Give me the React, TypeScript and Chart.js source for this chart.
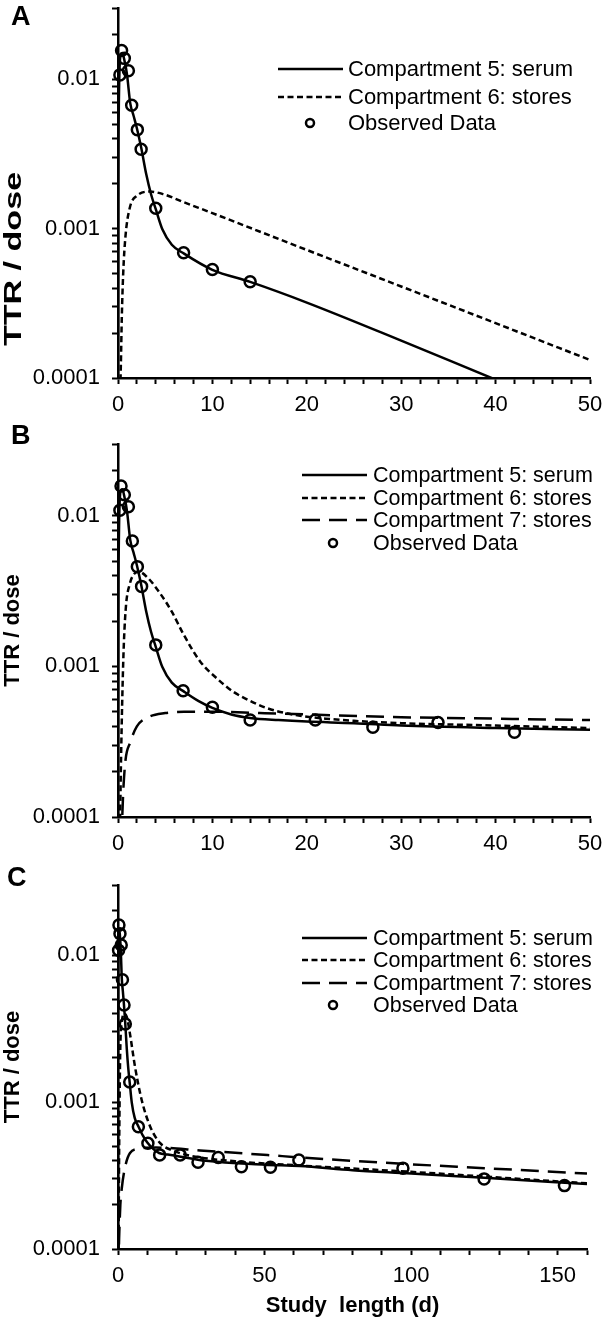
import React, { useEffect, useRef } from 'react';
import { Chart, registerables } from 'chart.js';

Chart.register(...registerables);

const FONT = "'Liberation Sans', Arial, Helvetica, sans-serif";

// ---------------- Panel A ----------------
const tA_serum = [0, 0.03, 0.08, 0.15, 0.3, 0.45, 0.7, 0.95, 1.3, 1.65, 2.0, 2.45, 3.0, 3.5, 4.0, 4.7, 5.7, 7, 10, 14, 20, 30, 40, 50];
const vA_serum = [0.00005, 0.002, 0.006, 0.011, 0.0148, 0.015, 0.0132, 0.0108, 0.0069, 0.0057, 0.0047, 0.0035, 0.0023, 0.0017, 0.00135, 0.00099, 0.00078, 0.00068, 0.00053, 0.00044, 0.00032, 0.000178, 0.0000975, 0.000054];
const tA_stores = [0, 0.2, 0.3, 0.4, 0.55, 0.8, 1.25, 2, 3.4, 4.8, 7, 10, 20, 30, 40, 50];
const vA_stores = [0.00003, 0.00007, 0.00012, 0.00025, 0.0005, 0.0009, 0.00138, 0.00166, 0.00177, 0.0017, 0.0015, 0.00127, 0.00072, 0.00041, 0.000233, 0.000132];
const tA_obs = [0.2, 0.38, 0.67, 1.1, 1.45, 2.05, 2.45, 4.0, 6.95, 10.0, 14.0];
const vA_obs = [0.0107, 0.0156, 0.0138, 0.0114, 0.0067, 0.0046, 0.0034, 0.00137, 0.00069, 0.000532, 0.000441];

// ---------------- Panel B ----------------
const tB_serum = [0, 0.03, 0.08, 0.15, 0.3, 0.45, 0.7, 0.95, 1.3, 1.65, 2.0, 2.45, 3.0, 3.5, 4.0, 4.7, 5.7, 7, 8.5, 10, 12, 14, 17, 20, 25, 30, 40, 50];
const vB_serum = [0.00005, 0.002, 0.006, 0.011, 0.0148, 0.015, 0.0132, 0.0108, 0.0069, 0.0057, 0.0047, 0.0035, 0.0023, 0.0017, 0.00135, 0.00099, 0.00078, 0.00068, 0.00059, 0.00053, 0.00048, 0.000455, 0.00044, 0.00043, 0.00042, 0.000405, 0.00039, 0.00038];
const tB_s6 = [0, 0.2, 0.32, 0.56, 0.81, 1.27, 1.7, 2.15, 3.2, 4.45, 5.7, 6.9, 8.7, 10.5, 12.2, 14, 15.7, 18.6, 22, 25, 30, 40, 50];
const vB_s6 = [0.00003, 0.00008, 0.00024, 0.0011, 0.00237, 0.00357, 0.0041, 0.00427, 0.00385, 0.00306, 0.00231, 0.00165, 0.00108, 0.00083, 0.00068, 0.00059, 0.00053, 0.000478, 0.00045, 0.000435, 0.00042, 0.000405, 0.00039];
const tB_s7 = [0, 0.3, 0.45, 0.56, 0.8, 1.27, 2, 3.2, 5, 7, 10, 15, 20, 30, 40, 50];
const vB_s7 = [0.00003, 0.00006, 0.0001, 0.00015, 0.00024, 0.00031, 0.0004, 0.00046, 0.00049, 0.0005, 0.0005, 0.00049, 0.00048, 0.00046, 0.00045, 0.00044];
const tB_obs = [0.2, 0.32, 0.67, 1.1, 1.52, 2.05, 2.5, 4.0, 6.9, 10.0, 14.0, 20.9, 27.0, 33.9, 42.0];
const vB_obs = [0.0109, 0.0158, 0.0138, 0.0115, 0.0068, 0.0046, 0.0034, 0.00139, 0.00069, 0.000535, 0.000441, 0.000441, 0.000395, 0.000424, 0.000366];

// ---------------- Panel C ----------------
const tC_serum = [0, 0.03, 0.08, 0.15, 0.3, 0.45, 0.7, 0.95, 1.3, 1.65, 2.0, 2.45, 3.0, 3.5, 4.0, 4.7, 5.7, 7, 8.5, 10, 12, 14, 17, 20, 30, 50, 62, 80, 100, 125, 160];
const vC_serum = [0.00005, 0.002, 0.006, 0.011, 0.0148, 0.015, 0.0132, 0.0108, 0.0069, 0.0057, 0.0047, 0.0035, 0.0023, 0.0017, 0.00135, 0.00099, 0.00078, 0.00068, 0.00059, 0.00053, 0.00048, 0.00045, 0.00044, 0.00043, 0.000398, 0.000375, 0.000367, 0.000344, 0.000327, 0.000305, 0.000277];
const tC_s6 = [0, 0.2, 0.3, 0.56, 0.8, 1.3, 2.2, 3.0, 4.1, 5.8, 8.1, 11, 14.4, 18.4, 25, 40, 60, 100, 160];
const vC_s6 = [0.00003, 0.00008, 0.00024, 0.0011, 0.0024, 0.0035, 0.004, 0.0038, 0.0029, 0.00174, 0.00103, 0.00068, 0.000525, 0.00047, 0.00043, 0.000395, 0.000372, 0.000335, 0.00028];
const tC_s7 = [0, 0.3, 0.5, 0.8, 1.3, 2.4, 4.1, 7, 13, 28, 51, 62, 97, 125, 160];
const vC_s7 = [0.00003, 0.0001, 0.00014, 0.0002, 0.00026, 0.00036, 0.00045, 0.00048, 0.00049, 0.000468, 0.000436, 0.00042, 0.00038, 0.000355, 0.000326];
const tC_obs = [0.2, 0.32, 0.67, 1.1, 1.52, 2.05, 2.5, 4.0, 6.95, 10.2, 14.2, 21.2, 27.3, 34.2, 42.1, 52.0, 61.7, 97.2, 124.9, 152.3];
const vC_obs = [0.0108, 0.016, 0.014, 0.0117, 0.0068, 0.00457, 0.0034, 0.00137, 0.00068, 0.000525, 0.000437, 0.000437, 0.00039, 0.00042, 0.000363, 0.00036, 0.000403, 0.000355, 0.0003, 0.00027];

// ---------------- Axes ----------------
const yMajor = [0.0001, 0.001, 0.01];
const yMajorLabels = ['0.0001', '0.001', '0.01'];
const yMin = 0.0001;
const yMax = 0.03;
const xLabelsAB = [0, 10, 20, 30, 40, 50];
const xLabelsC = [0, 50, 100, 150];

const legendLabels = ['Compartment 5: serum', 'Compartment 6: stores', 'Compartment 7: stores', 'Observed Data'];
const yTitle = 'TTR / dose';
const xTitle = 'Study  length (d)';

function yTickValues() {
  const out: number[] = [];
  for (const d of [0.0001, 0.001]) for (let k = 1; k <= 9; k++) out.push(+(k * d).toPrecision(6));
  out.push(0.01, 0.02, 0.03);
  return out;
}
function xTickValues(max: number, step: number) {
  const out: number[] = [];
  for (let v = 0; v <= max + 1e-9; v += step) out.push(v);
  return out;
}

const LW = 2.5;
const SOLID: number[] = [];
const SHORT = [6, 3.5];
const LONG = [18, 9];

const pts = (t: number[], v: number[]) => t.map((x, i) => ({ x, y: v[i] }));
const curve = (label: string, t: number[], v: number[], dash: number[]) => ({
  label,
  data: pts(t, v),
  borderColor: '#000',
  backgroundColor: '#000',
  borderWidth: LW,
  borderDash: dash,
  pointRadius: 0,
  fill: false,
  cubicInterpolationMode: 'monotone',
});
const observed = (t: number[], v: number[]) => ({
  label: legendLabels[3],
  data: pts(t, v),
  showLine: false,
  pointRadius: 5.5,
  pointStyle: 'circle',
  pointBorderWidth: 2.5,
  pointBorderColor: '#000',
  pointBackgroundColor: 'rgba(255,255,255,0)',
  borderColor: '#000',
  borderWidth: 2.5,
  clip: false,
});

const insetLegend = {
  id: 'insetLegend',
  afterDatasetsDraw(chart: any, _args: any, opts: any) {
    const ctx = chart.ctx;
    ctx.save();
    ctx.font = `${opts.fontSize}px ${FONT}`;
    ctx.fillStyle = '#000';
    ctx.strokeStyle = '#000';
    ctx.textBaseline = 'middle';
    ctx.textAlign = 'left';
    chart.data.datasets.forEach((ds: any, i: number) => {
      const y = opts.rows[i];
      ctx.beginPath();
      if (ds.showLine === false) {
        ctx.setLineDash([]);
        ctx.lineWidth = 2.5;
        ctx.arc(opts.markerX, y, opts.markerR, 0, Math.PI * 2);
      } else {
        ctx.setLineDash(ds.borderDash || []);
        ctx.lineWidth = ds.borderWidth;
        ctx.moveTo(opts.x1, y);
        ctx.lineTo(opts.x2, y);
      }
      ctx.stroke();
      ctx.fillText(ds.label, opts.textX, y + 1);
    });
    ctx.restore();
  },
};

const PANELS = [
  {
    id: 'A', top: 0, height: 418, padTop: 5, padRight: 12, xAxisHeight: 40,
    xMax: 50, xStep: 2, xLabels: xLabelsAB, xTitle: null as string | null,
    chartYTitle: false, htmlYTitle: { x: 13, y: 259, size: 24, stretch: 1.42 },
    letterPos: { left: 11, top: 3 },
    legend: { rows: [69, 97, 123], x1: 278, x2: 343, textX: 348, markerX: 310, markerR: 4, fontSize: 22 },
    datasets: [
      curve(legendLabels[0], tA_serum, vA_serum, SOLID),
      curve(legendLabels[1], tA_stores, vA_stores, SHORT),
      observed(tA_obs, vA_obs),
    ],
  },
  {
    id: 'B', top: 418, height: 440, padTop: 26, padRight: 12, xAxisHeight: 41,
    xMax: 50, xStep: 2, xLabels: xLabelsAB, xTitle: null as string | null,
    chartYTitle: true, htmlYTitle: null as any,
    letterPos: { left: 11, top: 422 },
    legend: { rows: [57, 80, 102, 125], x1: 302, x2: 367, textX: 373, markerX: 333, markerR: 4, fontSize: 21.5 },
    datasets: [
      curve(legendLabels[0], tB_serum, vB_serum, SOLID),
      curve(legendLabels[1], tB_s6, vB_s6, SHORT),
      curve(legendLabels[2], tB_s7, vB_s7, LONG),
      observed(tB_obs, vB_obs),
    ],
  },
  {
    id: 'C', top: 858, height: 459, padTop: 27, padRight: 15, xAxisHeight: 68,
    xMax: 160, xStep: 10, xLabels: xLabelsC, xTitle: xTitle as string | null,
    chartYTitle: true, htmlYTitle: null as any,
    letterPos: { left: 7, top: 864 },
    legend: { rows: [80, 102, 125, 147], x1: 302, x2: 367, textX: 373, markerX: 333, markerR: 4, fontSize: 21.5 },
    datasets: [
      curve(legendLabels[0], tC_serum, vC_serum, SOLID),
      curve(legendLabels[1], tC_s6, vC_s6, SHORT),
      curve(legendLabels[2], tC_s7, vC_s7, LONG),
      observed(tC_obs, vC_obs),
    ],
  },
];

function makeConfig(spec: any): any {
  const yTicks = yTickValues();
  const xTicks = xTickValues(spec.xMax, spec.xStep);
  return {
    type: 'line',
    data: { datasets: spec.datasets },
    options: {
      responsive: false,
      animation: false,
      events: [],
      layout: { padding: { top: spec.padTop, right: spec.padRight, left: 0, bottom: 0 } },
      plugins: {
        legend: { display: false },
        tooltip: { enabled: false },
        title: { display: false },
        insetLegend: spec.legend,
      },
      scales: {
        x: {
          type: 'linear',
          min: 0,
          max: spec.xMax,
          afterBuildTicks: (s: any) => { s.ticks = xTicks.map((value) => ({ value })); },
          afterFit: (s: any) => { s.height = spec.xAxisHeight; s.paddingLeft = 0; s.paddingRight = 0; },
          ticks: {
            autoSkip: false, maxRotation: 0, minRotation: 0, padding: 8, color: '#000',
            font: { family: FONT, size: 22 },
            callback: (v: number) => (spec.xLabels.includes(v) ? String(v) : ''),
          },
          grid: { display: true, drawOnChartArea: false, drawTicks: true, tickLength: 6, tickWidth: 2, tickColor: '#000' },
          border: { display: true, color: '#000', width: 2.5 },
          title: spec.xTitle
            ? { display: true, text: spec.xTitle, color: '#000', font: { family: FONT, size: 22, weight: 'bold', lineHeight: 1 }, padding: { top: 0, bottom: 0 } }
            : { display: false },
        },
        y: {
          type: 'logarithmic',
          min: yMin,
          max: yMax,
          afterBuildTicks: (s: any) => { s.ticks = yTicks.map((value) => ({ value })); },
          afterFit: (s: any) => { s.width = 118; s.paddingTop = 0; s.paddingBottom = 0; },
          ticks: {
            autoSkip: false, padding: 12, color: '#000',
            font: { family: FONT, size: 22 },
            callback: (v: number) => {
              const k = yMajor.findIndex((m) => Math.abs(m - v) / m < 1e-6);
              return k >= 0 ? yMajorLabels[k] : '';
            },
          },
          grid: { display: true, drawOnChartArea: false, drawTicks: true, tickLength: 6, tickWidth: 2, tickColor: '#000' },
          border: { display: true, color: '#000', width: 2.5 },
          title: {
            display: spec.chartYTitle, text: yTitle, color: '#000',
            font: { family: FONT, size: 22, weight: 'bold', lineHeight: 1.2 }, padding: { top: 0, bottom: 0 },
          },
        },
      },
    },
    plugins: [insetLegend],
  };
}

function Panel({ spec }: { spec: any }) {
  const ref = useRef<HTMLCanvasElement>(null);
  useEffect(() => {
    if (!ref.current) return;
    const chart = new Chart(ref.current, makeConfig(spec));
    return () => chart.destroy();
  }, [spec]);
  return (
    <canvas
      ref={ref}
      width={602}
      height={spec.height}
      style={{ position: 'absolute', left: 0, top: spec.top, width: 602, height: spec.height, display: 'block' }}
    />
  );
}

export default function App() {
  return (
    <div style={{ position: 'absolute', left: 0, top: 0, width: 602, height: 1317, background: '#fff', overflow: 'hidden' }}>
      {PANELS.map((p) => (
        <Panel key={p.id} spec={p} />
      ))}
      {PANELS.filter((p) => p.htmlYTitle).map((p) => (
        <div
          key={'ytitle-' + p.id}
          style={{
            position: 'absolute', left: p.htmlYTitle.x, top: p.htmlYTitle.y, whiteSpace: 'nowrap',
            fontFamily: FONT, fontWeight: 'bold', fontSize: p.htmlYTitle.size, lineHeight: 1.2, color: '#000',
            transform: `translate(-50%, -50%) rotate(-90deg) scale(${p.htmlYTitle.stretch}, 1)`,
          }}
        >
          {yTitle}
        </div>
      ))}
      {PANELS.map((p) => (
        <div
          key={'letter-' + p.id}
          style={{
            position: 'absolute', left: p.letterPos.left, top: p.letterPos.top,
            fontFamily: FONT, fontWeight: 'bold', fontSize: 27, lineHeight: '27px', color: '#000',
          }}
        >
          {p.id}
        </div>
      ))}
    </div>
  );
}
